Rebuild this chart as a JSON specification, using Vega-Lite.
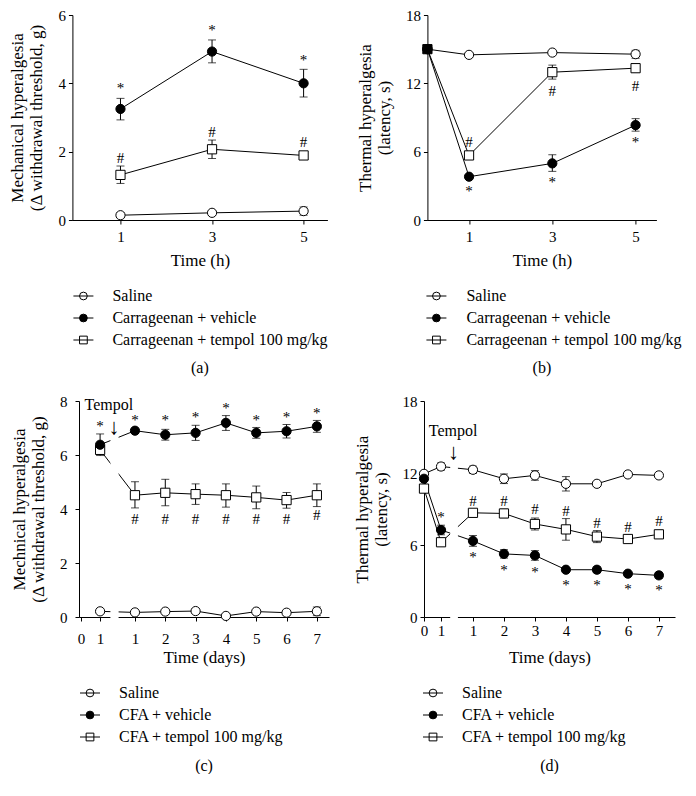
{
"$schema":"https://vega.github.io/schema/vega-lite/v6.json",
"padding":{"left":8,"top":8,"right":0,"bottom":0},
"config":{
 "view":{"stroke":null},
 "font":"Liberation Serif",
 "axis":{"domainColor":"black","tickColor":"black","labelColor":"black","titleColor":"black","labelFont":"Liberation Serif","titleFont":"Liberation Serif","labelFontSize":15,"titleFontSize":17,"titleFontWeight":"normal","grid":false,"tickSize":4,"domainWidth":1,"tickWidth":1,"labelFlush":false,"labelOverlap":"greedy","titleLineHeight":19},
 "axisY":{"minExtent":1,"titleFontWeight":"normal"},
 "axisX":{"titleFontWeight":"normal","labelOverlap":"greedy"},
 "title":{"font":"Liberation Serif","fontSize":16,"fontWeight":"normal","color":"black"},
 "text":{"font":"Liberation Serif","color":"black"}
},
"datasets":{
 "A":[
  {"t":1,"s":"sal","v":0.14,"lo":0.08,"hi":0.2},
  {"t":3,"s":"sal","v":0.21,"lo":0.15,"hi":0.27},
  {"t":5,"s":"sal","v":0.26,"lo":0.14,"hi":0.38},
  {"t":1,"s":"veh","v":3.25,"lo":2.93,"hi":3.56},
  {"t":3,"s":"veh","v":4.93,"lo":4.6,"hi":5.27},
  {"t":5,"s":"veh","v":4.0,"lo":3.6,"hi":4.41},
  {"t":1,"s":"tem","v":1.32,"lo":1.07,"hi":1.58},
  {"t":3,"s":"tem","v":2.07,"lo":1.8,"hi":2.34},
  {"t":5,"s":"tem","v":1.89,"lo":1.82,"hi":1.96}
 ],
 "annA":[
  {"t":1,"y":3.86,"lab":"*"},{"t":3,"y":5.56,"lab":"*"},{"t":5,"y":4.68,"lab":"*"},
  {"t":1,"y":1.81,"lab":"#"},{"t":3,"y":2.59,"lab":"#"},{"t":5,"y":2.28,"lab":"#"}
 ],
 "B":[
  {"t":0,"s":"sal","v":15,"lo":15,"hi":15},
  {"t":1,"s":"sal","v":14.5,"lo":14.35,"hi":14.65},
  {"t":3,"s":"sal","v":14.7,"lo":14.55,"hi":14.85},
  {"t":5,"s":"sal","v":14.56,"lo":14.2,"hi":14.9},
  {"t":0,"s":"veh","v":15,"lo":15,"hi":15},
  {"t":1,"s":"veh","v":3.8,"lo":3.65,"hi":3.95},
  {"t":3,"s":"veh","v":4.97,"lo":4.27,"hi":5.73},
  {"t":5,"s":"veh","v":8.33,"lo":7.8,"hi":8.9},
  {"t":0,"s":"tem","v":15,"lo":15,"hi":15},
  {"t":1,"s":"tem","v":5.67,"lo":5.5,"hi":5.85},
  {"t":3,"s":"tem","v":12.98,"lo":12.37,"hi":13.6},
  {"t":5,"s":"tem","v":13.33,"lo":13.0,"hi":13.7}
 ],
 "annB":[
  {"t":1,"y":6.84,"lab":"#"},{"t":1,"y":2.57,"lab":"*"},
  {"t":3,"y":11.29,"lab":"#"},{"t":3,"y":3.3,"lab":"*"},
  {"t":5,"y":11.8,"lab":"#"},{"t":5,"y":6.84,"lab":"*"}
 ],
 "C":[
  {"t":0.63,"s":"sal","v":0.21,"lo":0.16,"hi":0.26},
  {"t":1.78,"s":"sal","v":0.17,"lo":0.12,"hi":0.22},
  {"t":2.78,"s":"sal","v":0.2,"lo":0.15,"hi":0.25},
  {"t":3.78,"s":"sal","v":0.22,"lo":0.17,"hi":0.27},
  {"t":4.78,"s":"sal","v":0.04,"lo":0.0,"hi":0.08},
  {"t":5.78,"s":"sal","v":0.2,"lo":0.15,"hi":0.25},
  {"t":6.78,"s":"sal","v":0.16,"lo":0.11,"hi":0.21},
  {"t":7.78,"s":"sal","v":0.21,"lo":0.05,"hi":0.37},
  {"t":0.63,"s":"tem","v":6.19,"lo":6.09,"hi":6.29},
  {"t":1.78,"s":"tem","v":4.51,"lo":4.04,"hi":5.01},
  {"t":2.78,"s":"tem","v":4.6,"lo":4.12,"hi":5.1},
  {"t":3.78,"s":"tem","v":4.55,"lo":4.17,"hi":4.93},
  {"t":4.78,"s":"tem","v":4.51,"lo":4.07,"hi":4.93},
  {"t":5.78,"s":"tem","v":4.43,"lo":4.01,"hi":4.85},
  {"t":6.78,"s":"tem","v":4.33,"lo":4.03,"hi":4.61},
  {"t":7.78,"s":"tem","v":4.51,"lo":4.09,"hi":4.93},
  {"t":0.63,"s":"veh","v":6.38,"lo":5.98,"hi":6.78},
  {"t":1.78,"s":"veh","v":6.9,"lo":6.8,"hi":7.0},
  {"t":2.78,"s":"veh","v":6.75,"lo":6.55,"hi":6.95},
  {"t":3.78,"s":"veh","v":6.82,"lo":6.54,"hi":7.1},
  {"t":4.78,"s":"veh","v":7.19,"lo":6.91,"hi":7.46},
  {"t":5.78,"s":"veh","v":6.82,"lo":6.62,"hi":7.02},
  {"t":6.78,"s":"veh","v":6.88,"lo":6.63,"hi":7.13},
  {"t":7.78,"s":"veh","v":7.06,"lo":6.84,"hi":7.28}
 ],
 "annC":[
  {"t":0.63,"y":7.09,"lab":"*"},{"t":1.78,"y":7.29,"lab":"*"},{"t":2.78,"y":7.29,"lab":"*"},{"t":3.78,"y":7.41,"lab":"*"},
  {"t":4.78,"y":7.75,"lab":"*"},{"t":5.78,"y":7.31,"lab":"*"},{"t":6.78,"y":7.41,"lab":"*"},{"t":7.78,"y":7.56,"lab":"*"},
  {"t":1.78,"y":3.64,"lab":"#"},{"t":2.78,"y":3.64,"lab":"#"},{"t":3.78,"y":3.64,"lab":"#"},{"t":4.78,"y":3.64,"lab":"#"},
  {"t":5.78,"y":3.64,"lab":"#"},{"t":6.78,"y":3.64,"lab":"#"},{"t":7.78,"y":3.77,"lab":"#"},
  {"t":0.92,"y":7.87,"lab":"Tempol"},{"t":1.09,"y":7.05,"lab":"↓"}
 ],
 "D":[
  {"t":0,"s":"sal","v":11.93,"lo":11.7,"hi":12.15},
  {"t":0.55,"s":"sal","v":12.54,"lo":12.24,"hi":12.84},
  {"t":1.58,"s":"sal","v":12.27,"lo":11.97,"hi":12.57},
  {"t":2.58,"s":"sal","v":11.52,"lo":11.12,"hi":11.92},
  {"t":3.58,"s":"sal","v":11.8,"lo":11.4,"hi":12.2},
  {"t":4.58,"s":"sal","v":11.1,"lo":10.5,"hi":11.7},
  {"t":5.58,"s":"sal","v":11.1,"lo":11.0,"hi":11.2},
  {"t":6.58,"s":"sal","v":11.88,"lo":11.78,"hi":11.98},
  {"t":7.58,"s":"sal","v":11.8,"lo":11.7,"hi":11.9},
  {"t":0,"s":"tem","v":10.7,"lo":10.5,"hi":10.9},
  {"t":0.55,"s":"tem","v":6.23,"lo":6.1,"hi":6.36},
  {"t":1.58,"s":"tem","v":8.68,"lo":8.48,"hi":8.88},
  {"t":2.58,"s":"tem","v":8.63,"lo":8.28,"hi":8.98},
  {"t":3.58,"s":"tem","v":7.75,"lo":7.25,"hi":8.25},
  {"t":4.58,"s":"tem","v":7.3,"lo":6.4,"hi":8.2},
  {"t":5.58,"s":"tem","v":6.7,"lo":6.2,"hi":7.2},
  {"t":6.58,"s":"tem","v":6.5,"lo":6.2,"hi":6.8},
  {"t":7.58,"s":"tem","v":6.89,"lo":6.59,"hi":7.19},
  {"t":0,"s":"veh","v":11.52,"lo":11.3,"hi":11.75},
  {"t":0.55,"s":"veh","v":7.25,"lo":6.85,"hi":7.65},
  {"t":1.58,"s":"veh","v":6.34,"lo":5.89,"hi":6.79},
  {"t":2.58,"s":"veh","v":5.26,"lo":4.91,"hi":5.61},
  {"t":3.58,"s":"veh","v":5.13,"lo":4.73,"hi":5.53},
  {"t":4.58,"s":"veh","v":3.94,"lo":3.79,"hi":4.09},
  {"t":5.58,"s":"veh","v":3.94,"lo":3.69,"hi":4.19},
  {"t":6.58,"s":"veh","v":3.61,"lo":3.5,"hi":3.72},
  {"t":7.58,"s":"veh","v":3.47,"lo":3.22,"hi":3.72}
 ],
 "annD":[
  {"t":0.55,"y":8.35,"lab":"*"},{"t":1.58,"y":4.99,"lab":"*"},{"t":2.58,"y":3.89,"lab":"*"},{"t":3.58,"y":3.72,"lab":"*"},
  {"t":4.58,"y":2.65,"lab":"*"},{"t":5.58,"y":2.65,"lab":"*"},{"t":6.58,"y":2.37,"lab":"*"},{"t":7.58,"y":2.23,"lab":"*"},
  {"t":1.58,"y":9.67,"lab":"#"},{"t":2.58,"y":9.67,"lab":"#"},{"t":3.58,"y":8.96,"lab":"#"},{"t":4.58,"y":8.82,"lab":"#"},
  {"t":5.58,"y":7.86,"lab":"#"},{"t":6.58,"y":7.53,"lab":"#"},{"t":7.58,"y":8.02,"lab":"#"},
  {"t":0.94,"y":15.52,"lab":"Tempol"},{"t":0.95,"y":13.75,"lab":"↓"}
 ],
 "legAB":[
  {"s":"sal","lab":"Saline"},
  {"s":"veh","lab":"Carrageenan + vehicle"},
  {"s":"tem","lab":"Carrageenan + tempol 100 mg/kg"}
 ],
 "legCD":[
  {"s":"sal","lab":"Saline"},
  {"s":"veh","lab":"CFA + vehicle"},
  {"s":"tem","lab":"CFA + tempol 100 mg/kg"}
 ]
},
"center":true,
"spacing":18,
"vconcat":[
 {"hconcat":[
  {"vconcat":[
   {"width":255,"height":205,"data":{"name":"A"},
    "layer":[
     {"mark":{"type":"line","color":"black","strokeWidth":1},
      "encoding":{
       "x":{"field":"t","type":"quantitative","scale":{"domain":[-0.05,5.52],"nice":false,"zero":false},"axis":{"values":[1,3,5],"format":".0f","title":"Time (h)","labelPadding":5,"titlePadding":8,"titleFontWeight":"normal"}},
       "y":{"field":"v","type":"quantitative","scale":{"domain":[0,6],"nice":false},"axis":{"values":[0,2,4,6],"title":["Mechanical hyperalgesia","(Δ withdrawal threshold, g)"],"titlePadding":12,"labelPadding":3,"minExtent":1,"titleFontWeight":"normal"}},
       "detail":{"field":"s"}}},
     {"mark":{"type":"rule","color":"black","strokeWidth":1},
      "encoding":{"x":{"field":"t","type":"quantitative"},"y":{"field":"lo","type":"quantitative"},"y2":{"field":"hi"}}},
     {"mark":{"type":"tick","color":"black","orient":"horizontal","size":8,"thickness":1},
      "encoding":{"x":{"field":"t","type":"quantitative"},"y":{"field":"lo","type":"quantitative"}}},
     {"mark":{"type":"tick","color":"black","orient":"horizontal","size":8,"thickness":1},
      "encoding":{"x":{"field":"t","type":"quantitative"},"y":{"field":"hi","type":"quantitative"}}},
     {"mark":{"type":"point","filled":true,"stroke":"black","strokeWidth":1,"size":85,"opacity":1},
      "encoding":{"x":{"field":"t","type":"quantitative"},"y":{"field":"v","type":"quantitative"},
       "shape":{"field":"s","type":"nominal","scale":{"domain":["sal","veh","tem"],"range":["circle","circle","square"]},"legend":null},
       "fill":{"field":"s","type":"nominal","scale":{"domain":["sal","veh","tem"],"range":["white","black","white"]},"legend":null}}},
     {"data":{"name":"annA"},"mark":{"type":"text","fontSize":15,"baseline":"middle"},
      "encoding":{"x":{"field":"t","type":"quantitative"},"y":{"field":"y","type":"quantitative"},"text":{"field":"lab"}}}
    ]},
   {"width":255,"height":66,"data":{"name":"legAB"},
    "title":{"text":"(a)","orient":"bottom","anchor":"middle","offset":9},
    "layer":[
     {"mark":{"type":"point","filled":true,"stroke":"black","strokeWidth":1,"size":60,"opacity":1},
      "encoding":{"x":{"datum":11,"type":"quantitative","scale":{"domain":[0,255],"nice":false,"zero":false},"axis":null},
       "y":{"field":"lab","type":"nominal","sort":null,"axis":null,"scale":{"type":"point","padding":0.5}},
       "shape":{"field":"s","type":"nominal","scale":{"domain":["sal","veh","tem"],"range":["circle","circle","square"]},"legend":null},
       "fill":{"field":"s","type":"nominal","scale":{"domain":["sal","veh","tem"],"range":["white","black","white"]},"legend":null}}},
     {"mark":{"type":"rule","color":"black","strokeWidth":1},
      "encoding":{"x":{"datum":1,"type":"quantitative"},"x2":{"datum":21},"y":{"field":"lab","type":"nominal","sort":null}}},
     {"mark":{"type":"text","align":"left","baseline":"middle","fontSize":16},
      "encoding":{"x":{"datum":40,"type":"quantitative"},"y":{"field":"lab","type":"nominal","sort":null},"text":{"field":"lab"}}}
    ]}
  ],"spacing":17},
  {"vconcat":[
   {"width":229,"height":205,"data":{"name":"B"},
    "layer":[
     {"mark":{"type":"line","color":"black","strokeWidth":1},
      "encoding":{
       "x":{"field":"t","type":"quantitative","scale":{"domain":[0,5.5],"nice":false,"zero":false},"axis":{"values":[1,3,5],"format":".0f","title":"Time (h)","labelPadding":5,"titlePadding":8,"titleFontWeight":"normal"}},
       "y":{"field":"v","type":"quantitative","scale":{"domain":[0,18],"nice":false},"axis":{"values":[0,6,12,18],"title":["Thermal hyperalgesia","(latency, s)"],"titlePadding":12,"labelPadding":3,"minExtent":1,"titleFontWeight":"normal"}},
       "detail":{"field":"s"}}},
     {"mark":{"type":"rule","color":"black","strokeWidth":1},
      "encoding":{"x":{"field":"t","type":"quantitative"},"y":{"field":"lo","type":"quantitative"},"y2":{"field":"hi"}}},
     {"mark":{"type":"tick","color":"black","orient":"horizontal","size":8,"thickness":1},
      "encoding":{"x":{"field":"t","type":"quantitative"},"y":{"field":"lo","type":"quantitative"}}},
     {"mark":{"type":"tick","color":"black","orient":"horizontal","size":8,"thickness":1},
      "encoding":{"x":{"field":"t","type":"quantitative"},"y":{"field":"hi","type":"quantitative"}}},
     {"mark":{"type":"point","filled":true,"stroke":"black","strokeWidth":1,"size":85,"opacity":1},
      "encoding":{"x":{"field":"t","type":"quantitative"},"y":{"field":"v","type":"quantitative"},
       "shape":{"field":"s","type":"nominal","scale":{"domain":["sal","veh","tem"],"range":["circle","circle","square"]},"legend":null},
       "fill":{"condition":{"test":"datum.t === 0 && datum.s === 'tem'","value":"black"},"field":"s","type":"nominal","scale":{"domain":["sal","veh","tem"],"range":["white","black","white"]},"legend":null}}},
     {"data":{"name":"annB"},"mark":{"type":"text","fontSize":15,"baseline":"middle"},
      "encoding":{"x":{"field":"t","type":"quantitative"},"y":{"field":"y","type":"quantitative"},"text":{"field":"lab"}}}
    ]},
   {"width":229,"height":66,"data":{"name":"legAB"},
    "title":{"text":"(b)","orient":"bottom","anchor":"middle","offset":9},
    "layer":[
     {"mark":{"type":"point","filled":true,"stroke":"black","strokeWidth":1,"size":60,"opacity":1},
      "encoding":{"x":{"datum":9,"type":"quantitative","scale":{"domain":[0,229],"nice":false,"zero":false},"axis":null},
       "y":{"field":"lab","type":"nominal","sort":null,"axis":null,"scale":{"type":"point","padding":0.5}},
       "shape":{"field":"s","type":"nominal","scale":{"domain":["sal","veh","tem"],"range":["circle","circle","square"]},"legend":null},
       "fill":{"field":"s","type":"nominal","scale":{"domain":["sal","veh","tem"],"range":["white","black","white"]},"legend":null}}},
     {"mark":{"type":"rule","color":"black","strokeWidth":1},
      "encoding":{"x":{"datum":-1,"type":"quantitative"},"x2":{"datum":19},"y":{"field":"lab","type":"nominal","sort":null}}},
     {"mark":{"type":"text","align":"left","baseline":"middle","fontSize":16},
      "encoding":{"x":{"datum":39,"type":"quantitative"},"y":{"field":"lab","type":"nominal","sort":null},"text":{"field":"lab"}}}
    ]}
  ],"spacing":17}
 ],"spacing":28},
 {"hconcat":[
  {"vconcat":[
   {"width":250,"height":216,"data":{"name":"C"},
    "resolve":{"axis":{"x":"independent"}},
    "layer":[
     {"mark":{"type":"line","color":"black","strokeWidth":1},
      "encoding":{
       "x":{"field":"t","type":"quantitative","scale":{"domain":[-0.066,8.18],"nice":false,"zero":false},"axis":{"orient":"bottom","values":[0,1.78,3.78,5.78,7.78],"format":".0f","labelExpr":"datum.value < 0.3 ? '0' : format(datum.value - 0.78, '.0f')","title":"Time (days)","labelPadding":10,"titlePadding":3,"titleFontWeight":"normal"}},
       "y":{"field":"v","type":"quantitative","scale":{"domain":[0,8],"nice":false},"axis":{"values":[0,2,4,6,8],"title":["Mechnical hyperalgesia","(Δ withdrawal threshold, g)"],"titlePadding":12,"labelPadding":8,"minExtent":1,"titleFontWeight":"normal"}},
       "detail":{"field":"s"}}},
     {"data":{"values":[{}]},"mark":{"type":"rect","color":"white"},
      "encoding":{"x":{"datum":0.97,"type":"quantitative","axis":{"orient":"bottom","values":[0.63,2.78,4.78,6.78],"format":".0f","labelExpr":"datum.value < 0.9 ? '1' : format(datum.value - 0.78, '.0f')","title":null,"domain":false,"labelPadding":10}},"x2":{"datum":1.24},"y":{"datum":-0.35,"type":"quantitative"},"y2":{"datum":8}}},
     {"mark":{"type":"rule","color":"black","strokeWidth":1},
      "encoding":{"x":{"field":"t","type":"quantitative","axis":null},"y":{"field":"lo","type":"quantitative"},"y2":{"field":"hi"}}},
     {"mark":{"type":"tick","color":"black","orient":"horizontal","size":8,"thickness":1},
      "encoding":{"x":{"field":"t","type":"quantitative","axis":null},"y":{"field":"lo","type":"quantitative"}}},
     {"mark":{"type":"tick","color":"black","orient":"horizontal","size":8,"thickness":1},
      "encoding":{"x":{"field":"t","type":"quantitative","axis":null},"y":{"field":"hi","type":"quantitative"}}},
     {"mark":{"type":"point","filled":true,"stroke":"black","strokeWidth":1,"size":85,"opacity":1},
      "encoding":{"x":{"field":"t","type":"quantitative","axis":null},"y":{"field":"v","type":"quantitative"},
       "shape":{"field":"s","type":"nominal","scale":{"domain":["sal","veh","tem"],"range":["circle","circle","square"]},"legend":null},
       "fill":{"field":"s","type":"nominal","scale":{"domain":["sal","veh","tem"],"range":["white","black","white"]},"legend":null}}},
     {"data":{"name":"annC"},"mark":{"type":"text","baseline":"middle"},
      "encoding":{"x":{"field":"t","type":"quantitative","axis":null},"y":{"field":"y","type":"quantitative"},"text":{"field":"lab"},
       "size":{"condition":[{"test":"datum.lab === '↓'","value":22},{"test":"datum.lab === 'Tempol'","value":16}],"value":15}}}
    ]},
   {"width":250,"height":66,"data":{"name":"legCD"},
    "title":{"text":"(c)","orient":"bottom","anchor":"middle","offset":10},
    "layer":[
     {"mark":{"type":"point","filled":true,"stroke":"black","strokeWidth":1,"size":60,"opacity":1},
      "encoding":{"x":{"datum":11,"type":"quantitative","scale":{"domain":[0,250],"nice":false,"zero":false},"axis":null},
       "y":{"field":"lab","type":"nominal","sort":null,"axis":null,"scale":{"type":"point","padding":0.5}},
       "shape":{"field":"s","type":"nominal","scale":{"domain":["sal","veh","tem"],"range":["circle","circle","square"]},"legend":null},
       "fill":{"field":"s","type":"nominal","scale":{"domain":["sal","veh","tem"],"range":["white","black","white"]},"legend":null}}},
     {"mark":{"type":"rule","color":"black","strokeWidth":1},
      "encoding":{"x":{"datum":1,"type":"quantitative"},"x2":{"datum":21},"y":{"field":"lab","type":"nominal","sort":null}}},
     {"mark":{"type":"text","align":"left","baseline":"middle","fontSize":16},
      "encoding":{"x":{"datum":40,"type":"quantitative"},"y":{"field":"lab","type":"nominal","sort":null},"text":{"field":"lab"}}}
    ]}
  ],"spacing":17},
  {"vconcat":[
   {"width":251,"height":216,"data":{"name":"D"},
    "resolve":{"axis":{"x":"independent"}},
    "layer":[
     {"mark":{"type":"line","color":"black","strokeWidth":1},
      "encoding":{
       "x":{"field":"t","type":"quantitative","scale":{"domain":[0,8.1],"nice":false,"zero":false},"axis":{"orient":"bottom","values":[0,1.58,3.58,5.58,7.58],"format":".0f","labelExpr":"datum.value < 0.3 ? '0' : format(datum.value - 0.58, '.0f')","title":"Time (days)","labelPadding":2,"titlePadding":11,"titleFontWeight":"normal"}},
       "y":{"field":"v","type":"quantitative","scale":{"domain":[0,18],"nice":false},"axis":{"values":[0,6,12,18],"title":["Thermal hyperalgesia","(latency, s)"],"titlePadding":12,"labelPadding":3,"minExtent":1,"titleFontWeight":"normal"}},
       "detail":{"field":"s"}}},
     {"data":{"values":[{}]},"mark":{"type":"rect","color":"white"},
      "encoding":{"x":{"datum":0.845,"type":"quantitative","axis":{"orient":"bottom","values":[0.55,2.58,4.58,6.58],"format":".0f","labelExpr":"datum.value < 0.9 ? '1' : format(datum.value - 0.58, '.0f')","title":null,"domain":false,"labelPadding":2}},"x2":{"datum":1.095},"y":{"datum":-0.8,"type":"quantitative"},"y2":{"datum":18}}},
     {"mark":{"type":"rule","color":"black","strokeWidth":1},
      "encoding":{"x":{"field":"t","type":"quantitative","axis":null},"y":{"field":"lo","type":"quantitative"},"y2":{"field":"hi"}}},
     {"mark":{"type":"tick","color":"black","orient":"horizontal","size":8,"thickness":1},
      "encoding":{"x":{"field":"t","type":"quantitative","axis":null},"y":{"field":"lo","type":"quantitative"}}},
     {"mark":{"type":"tick","color":"black","orient":"horizontal","size":8,"thickness":1},
      "encoding":{"x":{"field":"t","type":"quantitative","axis":null},"y":{"field":"hi","type":"quantitative"}}},
     {"mark":{"type":"point","filled":true,"stroke":"black","strokeWidth":1,"size":85,"opacity":1},
      "encoding":{"x":{"field":"t","type":"quantitative","axis":null},"y":{"field":"v","type":"quantitative"},
       "shape":{"field":"s","type":"nominal","scale":{"domain":["sal","veh","tem"],"range":["circle","circle","square"]},"legend":null},
       "fill":{"field":"s","type":"nominal","scale":{"domain":["sal","veh","tem"],"range":["white","black","white"]},"legend":null}}},
     {"data":{"name":"annD"},"mark":{"type":"text","baseline":"middle"},
      "encoding":{"x":{"field":"t","type":"quantitative","axis":null},"y":{"field":"y","type":"quantitative"},"text":{"field":"lab"},
       "size":{"condition":[{"test":"datum.lab === '↓'","value":22},{"test":"datum.lab === 'Tempol'","value":16}],"value":15}}}
    ]},
   {"width":251,"height":66,"data":{"name":"legCD"},
    "title":{"text":"(d)","orient":"bottom","anchor":"middle","offset":10},
    "layer":[
     {"mark":{"type":"point","filled":true,"stroke":"black","strokeWidth":1,"size":60,"opacity":1},
      "encoding":{"x":{"datum":9,"type":"quantitative","scale":{"domain":[0,251],"nice":false,"zero":false},"axis":null},
       "y":{"field":"lab","type":"nominal","sort":null,"axis":null,"scale":{"type":"point","padding":0.5}},
       "shape":{"field":"s","type":"nominal","scale":{"domain":["sal","veh","tem"],"range":["circle","circle","square"]},"legend":null},
       "fill":{"field":"s","type":"nominal","scale":{"domain":["sal","veh","tem"],"range":["white","black","white"]},"legend":null}}},
     {"mark":{"type":"rule","color":"black","strokeWidth":1},
      "encoding":{"x":{"datum":-1,"type":"quantitative"},"x2":{"datum":19},"y":{"field":"lab","type":"nominal","sort":null}}},
     {"mark":{"type":"text","align":"left","baseline":"middle","fontSize":16},
      "encoding":{"x":{"datum":38,"type":"quantitative"},"y":{"field":"lab","type":"nominal","sort":null},"text":{"field":"lab"}}}
    ]}
  ],"spacing":17}
 ],"spacing":24}
]
}
